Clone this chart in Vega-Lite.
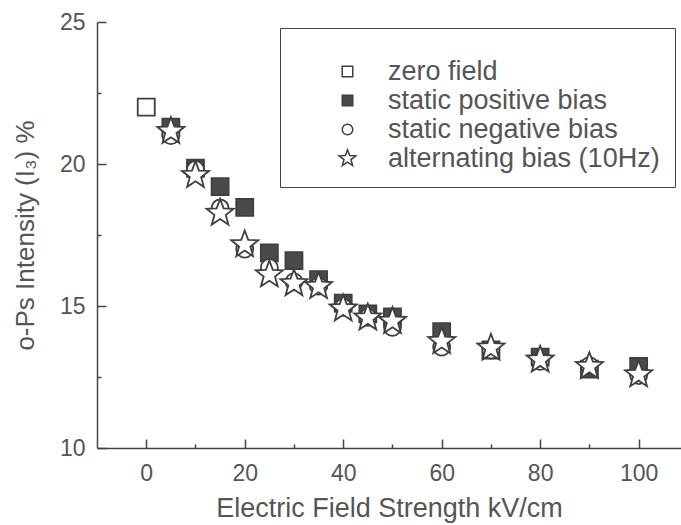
{
  "$schema": "https://vega.github.io/schema/vega-lite/v6.json",
  "autosize": {"type": "none"},
  "width": 584,
  "height": 426,
  "padding": {"left": 97, "top": 22, "right": 0, "bottom": 77},
  "background": "white",
  "config": {"view": {"stroke": null}, "font": "Liberation Sans"},
  "data": {
    "values": [
      {"series": "zero field", "field": 0, "intensity": 22.0},
      {"series": "static positive bias", "field": 5, "intensity": 21.3},
      {"series": "static positive bias", "field": 10, "intensity": 19.85},
      {"series": "static positive bias", "field": 15, "intensity": 19.2},
      {"series": "static positive bias", "field": 20, "intensity": 18.47},
      {"series": "static positive bias", "field": 25, "intensity": 16.87},
      {"series": "static positive bias", "field": 30, "intensity": 16.6},
      {"series": "static positive bias", "field": 35, "intensity": 15.93},
      {"series": "static positive bias", "field": 40, "intensity": 15.1},
      {"series": "static positive bias", "field": 45, "intensity": 14.72},
      {"series": "static positive bias", "field": 50, "intensity": 14.62},
      {"series": "static positive bias", "field": 60, "intensity": 14.1},
      {"series": "static positive bias", "field": 70, "intensity": 13.45},
      {"series": "static positive bias", "field": 80, "intensity": 13.2},
      {"series": "static positive bias", "field": 90, "intensity": 12.78},
      {"series": "static positive bias", "field": 100, "intensity": 12.87},
      {"series": "static negative bias", "field": 5, "intensity": 21.0},
      {"series": "static negative bias", "field": 10, "intensity": 19.8},
      {"series": "static negative bias", "field": 15, "intensity": 18.45},
      {"series": "static negative bias", "field": 20, "intensity": 17.0},
      {"series": "static negative bias", "field": 25, "intensity": 16.35},
      {"series": "static negative bias", "field": 30, "intensity": 15.85},
      {"series": "static negative bias", "field": 35, "intensity": 15.7},
      {"series": "static negative bias", "field": 40, "intensity": 14.95},
      {"series": "static negative bias", "field": 45, "intensity": 14.6},
      {"series": "static negative bias", "field": 50, "intensity": 14.25},
      {"series": "static negative bias", "field": 60, "intensity": 13.55},
      {"series": "static negative bias", "field": 70, "intensity": 13.45},
      {"series": "static negative bias", "field": 80, "intensity": 13.05},
      {"series": "static negative bias", "field": 90, "intensity": 12.9},
      {"series": "static negative bias", "field": 100, "intensity": 12.55},
      {"series": "alternating bias (10Hz)", "field": 5, "intensity": 21.15},
      {"series": "alternating bias (10Hz)", "field": 10, "intensity": 19.6},
      {"series": "alternating bias (10Hz)", "field": 15, "intensity": 18.27},
      {"series": "alternating bias (10Hz)", "field": 20, "intensity": 17.16},
      {"series": "alternating bias (10Hz)", "field": 25, "intensity": 16.1},
      {"series": "alternating bias (10Hz)", "field": 30, "intensity": 15.79},
      {"series": "alternating bias (10Hz)", "field": 35, "intensity": 15.69},
      {"series": "alternating bias (10Hz)", "field": 40, "intensity": 14.9},
      {"series": "alternating bias (10Hz)", "field": 45, "intensity": 14.58},
      {"series": "alternating bias (10Hz)", "field": 50, "intensity": 14.46},
      {"series": "alternating bias (10Hz)", "field": 60, "intensity": 13.75},
      {"series": "alternating bias (10Hz)", "field": 70, "intensity": 13.52},
      {"series": "alternating bias (10Hz)", "field": 80, "intensity": 13.1},
      {"series": "alternating bias (10Hz)", "field": 90, "intensity": 12.87},
      {"series": "alternating bias (10Hz)", "field": 100, "intensity": 12.58}
    ]
  },
  "mark": {"type": "point", "filled": true, "strokeWidth": 1.8, "opacity": 1, "size": 289},
  "encoding": {
    "x": {
      "field": "field", "type": "quantitative",
      "scale": {"domain": [-10, 108.6], "nice": false, "zero": false},
      "axis": {
        "title": "Electric Field Strength kV/cm",
        "values": [0, 10, 20, 30, 40, 50, 60, 70, 80, 90, 100],
        "labelExpr": "datum.value % 20 === 0 ? datum.label : ''",
        "tickSize": {"condition": {"test": "datum.value % 20 === 0", "value": -9}, "value": -4},
        "labelPadding": 23,
        "grid": false,
        "labelFlush": false,
        "domainColor": "#444", "domainWidth": 1.5,
        "tickColor": "#444", "tickWidth": 1.5,
        "labelFontSize": 23, "labelColor": "#555", "labelFont": "Liberation Sans",
        "titleFontSize": 27, "titleColor": "#555", "titleFontWeight": "normal", "titleFont": "Liberation Sans",
        "titlePadding": 10
      }
    },
    "y": {
      "field": "intensity", "type": "quantitative",
      "scale": {"domain": [10, 25], "nice": false, "zero": false},
      "axis": {
        "title": "o-Ps Intensity (I₃) %",
        "values": [10, 12.5, 15, 17.5, 20, 22.5, 25],
        "labelExpr": "datum.value % 5 === 0 ? datum.label : ''",
        "tickSize": {"condition": {"test": "datum.value % 5 === 0", "value": -9}, "value": -4},
        "labelPadding": 21,
        "grid": false,
        "labelFlush": false,
        "domainColor": "#444", "domainWidth": 1.5,
        "tickColor": "#444", "tickWidth": 1.5,
        "labelFontSize": 23, "labelColor": "#555", "labelFont": "Liberation Sans",
        "titleFontSize": 26, "titleColor": "#555", "titleFontWeight": "normal", "titleFont": "Liberation Sans",
        "titlePadding": 21
      }
    },
    "shape": {
      "field": "series", "type": "nominal",
      "scale": {
        "domain": ["zero field", "static positive bias", "static negative bias", "alternating bias (10Hz)"],
        "range": ["square", "square", "circle", "M0,-1.67L0.412,-0.568L1.588,-0.516L0.666,0.217L0.982,1.351L0,0.701L-0.982,1.351L-0.666,0.217L-1.588,-0.516L-0.412,-0.568Z"]
      },
      "legend": {
        "orient": "none", "legendX": 183, "legendY": 6,
        "title": " ", "titleFontSize": 10, "titlePadding": 5,
        "padding": 15, "strokeColor": "#444",
        "symbolOffset": 39, "labelOffset": 27, "rowPadding": 1,
        "symbolSize": 110, "symbolStrokeWidth": 1.5,
        "labelFontSize": 27, "labelColor": "#555", "labelFont": "Liberation Sans", "labelLimit": 400
      }
    },
    "fill": {
      "field": "series", "type": "nominal",
      "scale": {
        "domain": ["zero field", "static positive bias", "static negative bias", "alternating bias (10Hz)"],
        "range": ["white", "#4a4a4a", "white", "white"]
      }
    },
    "stroke": {
      "field": "series", "type": "nominal",
      "scale": {
        "domain": ["zero field", "static positive bias", "static negative bias", "alternating bias (10Hz)"],
        "range": ["#3f3f3f", "#3f3f3f", "#3f3f3f", "#3f3f3f"]
      }
    }
  }
}
